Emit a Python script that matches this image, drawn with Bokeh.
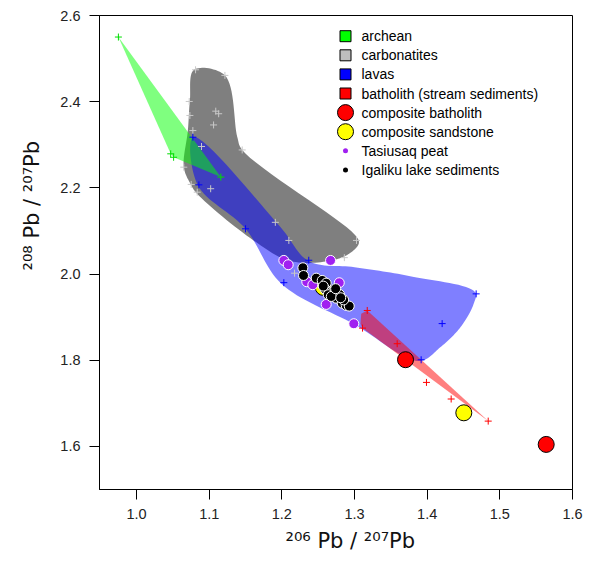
import numpy as np
from bokeh.plotting import figure
from bokeh.models import Range1d, FixedTicker, Label, PrintfTickFormatter, Title
from bokeh.embed import file_html
from bokeh.resources import INLINE

# ---------------- data ----------------
archean_x = [0.975, 1.047, 1.051, 1.116]
archean_y = [2.550, 2.279, 2.271, 2.225]

carb_x = [1.0812, 1.1216, 1.0725, 1.0734, 1.109, 1.113, 1.106, 1.0775, 1.0894, 1.1454,
          1.065, 1.0752, 1.0835, 1.102, 1.191, 1.2096, 1.3027, 1.286, 1.2174]
carb_y = [2.474, 2.461, 2.4005, 2.368, 2.378, 2.372, 2.346, 2.333, 2.296, 2.288,
          2.248, 2.208, 2.190, 2.198, 2.120, 2.078, 2.078, 2.038, 2.002]

lavas_x = [1.0775, 1.0858, 1.150, 1.237, 1.2027, 1.3917, 1.4206, 1.4674]
lavas_y = [2.3176, 2.207, 2.105, 2.032, 1.980, 1.801, 1.885, 1.954]

bath_x = [1.3175, 1.311, 1.3587, 1.399, 1.433, 1.484]
bath_y = [1.9155, 1.8745, 1.8383, 1.7485, 1.710, 1.6587]

comp_bath_x = [1.3702, 1.5638]
comp_bath_y = [1.8012, 1.6046]

comp_sand_x = [1.4504, 1.2570]
comp_sand_y = [1.678, 1.9690]

peat_x = [1.2027, 1.2087, 1.267, 1.2343, 1.2426, 1.279, 1.261, 1.299]
peat_y = [2.0316, 2.0216, 2.0316, 1.9821, 1.9752, 1.9798, 1.9295, 1.8847]

lake_x = [1.2289, 1.2298, 1.2473, 1.2555, 1.261, 1.260, 1.266, 1.2707, 1.2762, 1.2638,
          1.2748, 1.2793, 1.283, 1.2886, 1.2927, 1.268, 1.285, 1.257, 1.274, 1.281]
lake_y = [2.0146, 1.9967, 1.9905, 1.9852, 1.9789, 1.9643, 1.958, 1.9597, 1.9566, 1.952,
          1.944, 1.9527, 1.9325, 1.9271, 1.9256, 1.948, 1.940, 1.972, 1.966, 1.945]

# outlines of the shaded source fields (data coordinates)
archean_outline_x = [0.975, 1.116, 1.051, 1.047]
archean_outline_y = [2.550, 2.225, 2.271, 2.279]

carb_outline_x = [1.079, 1.1216, 1.1386, 1.1454, 1.300, 1.306, 1.295, 1.270, 1.212, 1.161, 1.0835, 1.0743, 1.065, 1.0706, 1.0734]
carb_outline_y = [2.474, 2.461, 2.318, 2.288, 2.092, 2.072, 2.050, 2.032, 2.030, 2.078, 2.186, 2.209, 2.248, 2.333, 2.403]

lavas_outline_x = [1.078, 1.198, 1.237, 1.300, 1.380, 1.466, 1.464, 1.446, 1.418, 1.389, 1.300, 1.199, 1.150, 1.084]
lavas_outline_y = [2.318, 2.109, 2.030, 2.016, 1.994, 1.958, 1.931, 1.877, 1.830, 1.798, 1.883, 1.978, 2.105, 2.207]

bath_outline_x = [1.3175, 1.484, 1.311, 1.3082, 1.3092]
bath_outline_y = [1.9155, 1.6587, 1.8745, 1.8847, 1.9078]

legend_labels = ["archean", "carbonatites", "lavas", "batholith (stream sediments)",
                 "composite batholith", "composite sandstone", "Tasiusaq peat",
                 "Igaliku lake sediments"]

x_ticks = [1.0, 1.1, 1.2, 1.3, 1.4, 1.5, 1.6]
y_ticks = [1.6, 1.8, 2.0, 2.2, 2.4, 2.6]

x_title = "\u00b2\u2070\u2076 Pb / \u00b2\u2070\u2077Pb"
y_title = "\u00b2\u2070\u2078 Pb / \u00b2\u2070\u2077Pb"

# ---------------- layout ----------------
X0, X1 = 0.949, 1.6
Y0, Y1 = 1.5, 2.6
FL, FT, FW, FH = 99, 15, 473, 474   # frame in page pixels

def px2x(px):
    return X0 + (px - FL) / FW * (X1 - X0)

def px2y(py):
    return Y1 - (py - FT) / FH * (Y1 - Y0)

SX = FW / (X1 - X0)
SY = FH / (Y1 - Y0)

def smooth_closed(xs, ys, n=16):
    P = np.column_stack([np.asarray(xs) * SX, np.asarray(ys) * SY])
    N = len(P)
    out = []
    for i in range(N):
        p0, p1, p2, p3 = P[i - 1], P[i], P[(i + 1) % N], P[(i + 2) % N]
        t0 = 0.0
        t1 = t0 + np.linalg.norm(p1 - p0) ** 0.5
        t2 = t1 + np.linalg.norm(p2 - p1) ** 0.5
        t3 = t2 + np.linalg.norm(p3 - p2) ** 0.5
        for t in np.linspace(t1, t2, n, endpoint=False):
            a1 = (t1 - t) / (t1 - t0) * p0 + (t - t0) / (t1 - t0) * p1
            a2 = (t2 - t) / (t2 - t1) * p1 + (t - t1) / (t2 - t1) * p2
            a3 = (t3 - t) / (t3 - t2) * p2 + (t - t2) / (t3 - t2) * p3
            b1 = (t2 - t) / (t2 - t0) * a1 + (t - t0) / (t2 - t0) * a2
            b2 = (t3 - t) / (t3 - t1) * a2 + (t - t1) / (t3 - t1) * a3
            c = (t2 - t) / (t2 - t1) * b1 + (t - t1) / (t2 - t1) * b2
            out.append(c)
    out = np.array(out)
    return list(out[:, 0] / SX), list(out[:, 1] / SY)

FONT = "Liberation Sans"
TFONT = "DejaVu Sans"

p = figure(output_backend="svg", toolbar_location=None,
           frame_width=FW, frame_height=FH,
           min_border_left=FL, min_border_right=20, min_border_top=FT, min_border_bottom=75,
           x_range=Range1d(X0, X1), y_range=Range1d(Y0, Y1))
p.grid.visible = False
p.background_fill_color = "white"
p.border_fill_color = "white"
p.outline_line_color = "black"
p.outline_line_width = 1
p.outline_line_alpha = 1

for ax, ticks in ((p.xaxis[0], x_ticks), (p.yaxis[0], y_ticks)):
    ax.ticker = FixedTicker(ticks=ticks)
    ax.formatter = PrintfTickFormatter(format="%.1f")
    ax.major_tick_out = 10
    ax.major_tick_in = 0
    ax.minor_tick_line_color = None
    ax.axis_line_color = "black"
    ax.major_tick_line_color = "black"
    ax.major_label_text_font = FONT
    ax.major_label_text_font_size = "14.5px"
    ax.major_label_text_color = "#222222"
    ax.major_label_standoff = 9
    ax.axis_label = None

# axis titles as side-panel titles
p.add_layout(Title(text=x_title, text_font=TFONT, text_font_size="21px", text_font_style="normal",
                   text_color="#111111", align="left", offset=186, vertical_align="top", standoff=14), "below")
p.add_layout(Title(text=y_title, text_font=TFONT, text_font_size="21px", text_font_style="normal",
                   text_color="#111111", align="left", offset=219, vertical_align="bottom", standoff=28), "left")

# shaded fields
cx, cy = smooth_closed(carb_outline_x, carb_outline_y)
p.patch(cx, cy, fill_color="black", fill_alpha=0.5, line_color=None)
lx, ly = smooth_closed(lavas_outline_x, lavas_outline_y)
p.patch(lx, ly, fill_color="#0000ff", fill_alpha=0.5, line_color=None)
p.patch(bath_outline_x, bath_outline_y, fill_color="#ff0000", fill_alpha=0.5, line_color=None)
p.patch(archean_outline_x, archean_outline_y, fill_color="#00ff00", fill_alpha=0.5, line_color=None)

# crosses
p.scatter(carb_x, carb_y, marker="cross", size=7, line_color="#c8c8c8", line_width=1)
p.scatter(lavas_x, lavas_y, marker="cross", size=7, line_color="#0000ff", line_width=1)
p.scatter(bath_x, bath_y, marker="cross", size=7, line_color="#ff0000", line_width=1)
p.scatter(archean_x, archean_y, marker="cross", size=7, line_color="#00dd00", line_width=1)

# composites and samples
p.scatter(comp_bath_x, comp_bath_y, marker="circle", size=16, fill_color="#ff0000", line_color="black", line_width=1)
p.scatter(comp_sand_x, comp_sand_y, marker="circle", size=16, fill_color="#ffff00", line_color="black", line_width=1)
p.scatter(peat_x, peat_y, marker="circle", size=10, fill_color="#a020f0", line_color="white", line_width=1)
p.scatter(lake_x, lake_y, marker="circle", size=10, fill_color="black", line_color="white", line_width=1)

# legend (manual)
row_y = [35.7 + 19.1 * i for i in range(len(legend_labels))]
sym_x = px2x(345)
txt_x = px2x(361)
sq_cols = ["#00ff00", "#bebebe", "#0000ff", "#ff0000"]
for i, c in enumerate(sq_cols):
    p.scatter([sym_x], [px2y(row_y[i])], marker="square", size=11, fill_color=c, line_color="black", line_width=1)
p.scatter([sym_x], [px2y(row_y[4])], marker="circle", size=16, fill_color="#ff0000", line_color="black", line_width=1)
p.scatter([sym_x], [px2y(row_y[5])], marker="circle", size=16, fill_color="#ffff00", line_color="black", line_width=1)
p.scatter([sym_x], [px2y(row_y[6])], marker="circle", size=5, fill_color="#a020f0", line_color=None)
p.scatter([sym_x], [px2y(row_y[7])], marker="circle", size=5, fill_color="black", line_color=None)
for i, lab in enumerate(legend_labels):
    p.add_layout(Label(x=txt_x, y=px2y(row_y[i]), text=lab, text_font=FONT, text_font_size="14px",
                       text_baseline="middle", text_align="left", text_color="black"))

open("out.html", "w").write(file_html(p, INLINE))
